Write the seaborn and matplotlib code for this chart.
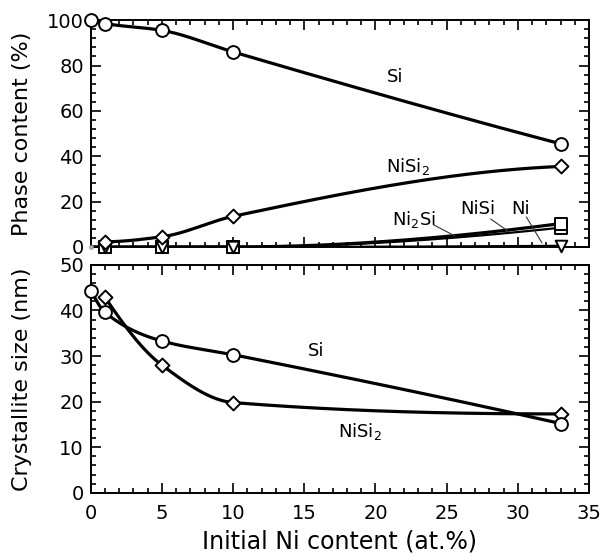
import numpy as np
import pandas as pd
import matplotlib
matplotlib.use("Agg")
import matplotlib.pyplot as plt
import seaborn as sns
from matplotlib.ticker import MultipleLocator

sns.set_theme(style="ticks")
plt.rcParams['font.family'] = ['DejaVu Sans']
plt.rcParams['mathtext.fontset'] = 'dejavusans'
for k in ('text.color', 'axes.labelcolor', 'xtick.color', 'ytick.color',
          'axes.edgecolor'):
    plt.rcParams[k] = 'black'

# ---------------- data ----------------
# Phase content (%) vs initial Ni content (at.%)
x_si = [0, 1, 5, 10, 33]
phase_si = [100, 98.5, 95.5, 86, 45.5]
x_nisi2 = [1, 5, 10, 33]
phase_nisi2 = [2.3, 4.5, 13.5, 35.5]
x_minor = [0, 1, 5, 10, 33]
phase_nisi = [0, 0, 0, 0, 10.3]
phase_ni2si = [0, 0, 0, 0, 8.5]
phase_ni = [0, 0, 0, 0, 0.5]

# Crystallite size (nm)
size_si = [44.3, 39.6, 33.3, 30.3, 15.2]
size_nisi2 = [42.9, 28.0, 19.8, 17.3]

xticks = [0, 5, 10, 15, 20, 25, 30, 35]


def pchip(x, y, xs):
    x = np.asarray(x, float)
    y = np.asarray(y, float)
    h = np.diff(x)
    d = np.diff(y) / h
    n = len(x)
    m = np.zeros(n)
    for k in range(1, n - 1):
        if d[k - 1] * d[k] > 0:
            w1 = 2 * h[k] + h[k - 1]
            w2 = h[k] + 2 * h[k - 1]
            m[k] = (w1 + w2) / (w1 / d[k - 1] + w2 / d[k])
    def end(h0, h1, d0, d1):
        s = ((2 * h0 + h1) * d0 - h0 * d1) / (h0 + h1)
        if np.sign(s) != np.sign(d0):
            s = 0.0
        elif np.sign(d0) != np.sign(d1) and abs(s) > abs(3 * d0):
            s = 3 * d0
        return s
    if n > 2:
        m[0] = end(h[0], h[1], d[0], d[1])
        m[-1] = end(h[-1], h[-2], d[-1], d[-2])
    else:
        m[:] = d[0]
    out = np.empty_like(xs, dtype=float)
    for i, xv in enumerate(xs):
        k = min(max(np.searchsorted(x, xv) - 1, 0), n - 2)
        t = (xv - x[k]) / h[k]
        h00 = 2 * t**3 - 3 * t**2 + 1
        h10 = t**3 - 2 * t**2 + t
        h01 = -2 * t**3 + 3 * t**2
        h11 = t**3 - t**2
        out[i] = h00 * y[k] + h10 * h[k] * m[k] + h01 * y[k + 1] + h11 * h[k] * m[k + 1]
    return out


def curve(ax, x, y, lw=2.3):
    xs = np.linspace(x[0], x[-1], 300)
    ys = pchip(x, y, xs)
    sns.lineplot(x=xs, y=ys, ax=ax, color='black', lw=lw, sort=False, zorder=2)


def marks(ax, x, y, marker, s):
    sns.scatterplot(x=x, y=y, ax=ax, marker=marker, s=s, facecolor='white',
                    edgecolor='black', linewidth=1.4, zorder=4, clip_on=False,
                    legend=False)


fig = plt.figure(figsize=(6.01, 5.6), dpi=100)
ax1 = fig.add_axes([0.151, 0.559, 0.829, 0.405])
ax2 = fig.add_axes([0.151, 0.120, 0.829, 0.407])

# ---------- top panel ----------
curve(ax1, x_si, phase_si)
curve(ax1, x_nisi2, phase_nisi2)
curve(ax1, x_minor, phase_ni2si, lw=1.6)
curve(ax1, x_minor, phase_nisi)
curve(ax1, x_minor, phase_ni, lw=1.6)

marks(ax1, x_minor[1:], phase_ni2si[1:], 's', 80)
marks(ax1, x_minor[1:], phase_nisi[1:], 's', 80)
marks(ax1, x_minor[1:], phase_ni[1:], 'v', 70)
marks(ax1, x_nisi2, phase_nisi2, 'D', 50)
marks(ax1, x_si, phase_si, 'o', 85)
sns.scatterplot(x=x_minor[:1], y=phase_ni[:1], ax=ax1, marker='o', s=10,
                color='#aaaaaa', edgecolor='#888888', zorder=5, clip_on=False,
                legend=False)

ax1.set_xlim(0, 35)
ax1.set_ylim(0, 100)
ax1.set_xticks(xticks)
ax1.set_xticklabels([])
ax1.yaxis.set_major_locator(MultipleLocator(20))
ax1.yaxis.set_minor_locator(MultipleLocator(4))
ax1.set_ylabel('Phase content (%)', fontsize=16)

ax1.text(21.4, 75, 'Si', fontsize=13, ha='center', va='center')
ax1.text(22.3, 35.5, 'NiSi$_2$', fontsize=13, ha='center', va='center')
ax1.text(22.7, 12.2, 'Ni$_2$Si', fontsize=13, ha='center', va='center')
ax1.text(27.2, 16.6, 'NiSi', fontsize=13, ha='center', va='center')
ax1.text(30.2, 16.6, 'Ni', fontsize=13, ha='center', va='center')
for (x0, y0, x1, y1) in [(24.1, 9.7, 25.6, 4.8), (28.1, 12.3, 29.4, 6.6),
                         (30.6, 13.2, 31.7, 1.8)]:
    ax1.annotate('', xy=(x1, y1), xytext=(x0, y0),
                 arrowprops=dict(arrowstyle='-', lw=0.8, color='#333333',
                                 shrinkA=0, shrinkB=0))

# ---------- bottom panel ----------
curve(ax2, x_si, size_si)
curve(ax2, x_nisi2, size_nisi2)
marks(ax2, x_nisi2, size_nisi2, 'D', 50)
marks(ax2, x_si, size_si, 'o', 85)

ax2.set_xlim(0, 35)
ax2.set_ylim(0, 50)
ax2.set_xticks(xticks)
ax2.set_xticklabels([str(t) for t in xticks])
ax2.xaxis.set_minor_locator(MultipleLocator(1))
ax2.yaxis.set_major_locator(MultipleLocator(10))
ax2.yaxis.set_minor_locator(MultipleLocator(2))
ax2.set_ylabel('Crystallite size (nm)', fontsize=16)
ax2.set_xlabel('Initial Ni content (at.%)', fontsize=17)

ax2.text(15.8, 31.0, 'Si', fontsize=13, ha='center', va='center')
ax2.text(18.9, 13.4, 'NiSi$_2$', fontsize=13, ha='center', va='center')

for ax in (ax1, ax2):
    ax.xaxis.set_minor_locator(MultipleLocator(1))
    ax.tick_params(which='both', direction='in', top=True, right=True,
                   width=1.2, colors='black', labelsize=14)
    ax.tick_params(which='major', length=7, pad=5)
    ax.tick_params(which='minor', length=3.5)
    for sp in ax.spines.values():
        sp.set_linewidth(1.4)
        sp.set_color('black')
    ax.yaxis.set_label_coords(-0.118, 0.5)
ax2.tick_params(axis='x', which='major', pad=8)
ax2.xaxis.labelpad = 5

fig.savefig('out.png', dpi=100)
